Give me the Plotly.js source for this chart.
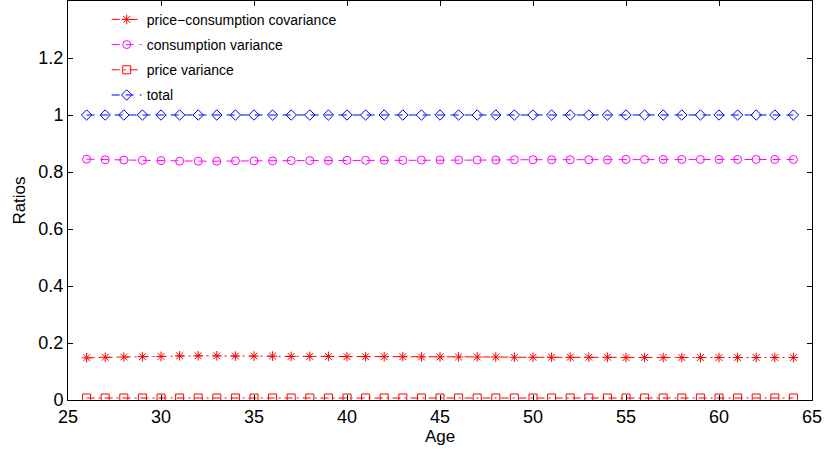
<!DOCTYPE html>
<html>
<head>
<meta charset="utf-8">
<script src="https://cdn.plot.ly/plotly-3.0.1.min.js"></script>
<style>html,body{margin:0;padding:0;background:#fff;}#chart{width:824px;height:453px;}</style>
</head>
<body>
<div id="chart"></div>
<script>
var ages = [26,27,28,29,30,31,32,33,34,35,36,37,38,39,40,41,42,43,44,45,46,47,48,49,50,51,52,53,54,55,56,57,58,59,60,61,62,63,64];
var covariance = [0.148,0.150,0.151,0.152,0.153,0.155,0.155,0.155,0.154,0.154,0.154,0.153,0.153,0.153,0.152,0.152,0.152,0.152,0.151,0.151,0.151,0.151,0.151,0.150,0.150,0.150,0.150,0.150,0.150,0.149,0.149,0.149,0.149,0.149,0.149,0.149,0.149,0.149,0.149];
var consVariance = [0.845,0.843,0.842,0.841,0.840,0.838,0.838,0.838,0.839,0.839,0.839,0.840,0.840,0.840,0.841,0.841,0.841,0.841,0.842,0.842,0.842,0.842,0.842,0.843,0.843,0.843,0.843,0.843,0.843,0.844,0.844,0.844,0.844,0.844,0.844,0.844,0.844,0.844,0.844];
var priceVariance = [0.007,0.007,0.007,0.007,0.007,0.007,0.007,0.007,0.007,0.007,0.007,0.007,0.007,0.007,0.007,0.007,0.007,0.007,0.007,0.007,0.007,0.007,0.007,0.007,0.007,0.007,0.007,0.007,0.007,0.007,0.007,0.007,0.007,0.007,0.007,0.007,0.007,0.007,0.007];
var total = [1,1,1,1,1,1,1,1,1,1,1,1,1,1,1,1,1,1,1,1,1,1,1,1,1,1,1,1,1,1,1,1,1,1,1,1,1,1,1];
var seriesNames = ["price\u2212consumption covariance","consumption variance","price variance","total"];
var xTicks = [25,30,35,40,45,50,55,60,65];
var yTicks = [0,0.2,0.4,0.6,0.8,1,1.2];

var FONT = "Liberation Sans, Arial, sans-serif";
var DASH = "8px,6px";
var DASHDOT = "8px,4px,2px,4px";
function tr(y, name, color, dash, symbol, group){
  return {
    x: ages, y: y, name: name, type: "scatter", mode: "lines+markers",
    legendgroup: group,
    line: {color: color, width: 1, dash: dash},
    marker: {symbol: symbol, size: 8, color: color, line: {color: color, width: 1}}
  };
}
var data = [
  tr(covariance, seriesNames[0], "#ff0000", DASHDOT, "asterisk-open", "a"),
  tr(consVariance, seriesNames[1], "#ff00ff", DASH, "circle-open", "b"),
  tr(priceVariance, seriesNames[2], "#ff0000", DASHDOT, "square-open", "c"),
  tr(total, seriesNames[3], "#0000ff", DASH, "diamond-open", "d")
];
var axisCommon = {
  showgrid: false, zeroline: false, showline: true, linecolor: "#000", linewidth: 1,
  mirror: "ticks", ticks: "inside", ticklen: 5, tickcolor: "#000", tickwidth: 1,
  tickfont: {family: FONT, size: 18, color: "#000"}
};
var layout = {
  width: 824, height: 453,
  margin: {l: 68, r: 12, t: 1, b: 53},
  paper_bgcolor: "#fff", plot_bgcolor: "#fff",
  showlegend: true,
  legend: {x: 0.052, y: 0.993, xanchor: "left", yanchor: "top", bgcolor: "rgba(0,0,0,0)",
    borderwidth: 0, traceorder: "grouped", tracegroupgap: 4,
    font: {family: FONT, size: 14, color: "#000"}},
  xaxis: Object.assign({}, axisCommon, {range: [25, 65], tickvals: xTicks, ticktext: xTicks.map(String),
    title: {text: "Age", font: {family: FONT, size: 17, color: "#000"}, standoff: 2}}),
  yaxis: Object.assign({}, axisCommon, {range: [0, 1.4], tickvals: yTicks, ticktext: yTicks.map(String),
    title: {text: "Ratios", font: {family: FONT, size: 17, color: "#000"}, standoff: 8}})
};
Plotly.newPlot("chart", data, layout, {displayModeBar: false, staticPlot: true});
</script>
</body>
</html>
